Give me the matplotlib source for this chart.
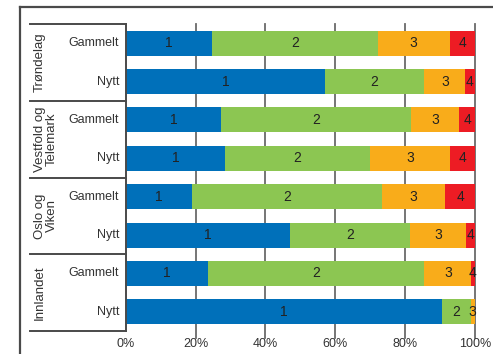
import matplotlib
matplotlib.use("Agg")
import matplotlib.pyplot as plt
from matplotlib.lines import Line2D
import matplotlib.transforms as mtransforms

# ---- data ----
groups = ["Trøndelag", "Vestfold og\nTelemark", "Oslo og\nViken", "Innlandet"]
subs = ["Gammelt", "Nytt"]
series_names = ["1", "2", "3", "4"]
s1 = [24.6, 57.0, 27.3, 28.3, 19.0, 47.0, 23.5, 90.5]
s2 = [47.6, 28.6, 54.3, 41.7, 54.3, 34.4, 62.1, 8.3]
s3 = [20.6, 11.7, 14.0, 22.8, 18.3, 16.2, 13.4, 1.2]
s4 = [7.2, 2.7, 4.4, 7.2, 8.4, 2.4, 1.0, 0.0]
xticks = [0, 20, 40, 60, 80, 100]
xticklabels = ["0%", "20%", "40%", "60%", "80%", "100%"]

colors = ["#0070BA", "#8CC652", "#F9AC1A", "#ED1C24"]
FONT = ["Liberation Sans", "DejaVu Sans"]
plt.rcParams["font.family"] = FONT

W, H = 493, 354
fig = plt.figure(figsize=(W / 100, H / 100), dpi=100)
ax_l, ax_r, ax_t, ax_b = 126, 474.7, 24, 331
ax = fig.add_axes([ax_l / W, 1 - ax_b / H, (ax_r - ax_l) / W, (ax_b - ax_t) / H])

n = len(s1)
ypos = list(range(n))
line_col = "#4a4a4a"
grid_col = "#6a6a6a"

# gridlines (extend slightly below axis like ticks)
for xv in xticks[1:]:
    ax.axvline(xv, ymin=-0.022, ymax=1, color=grid_col, lw=1.3, zorder=0, clip_on=False)

left = [0.0] * n
for vals, col, name in zip([s1, s2, s3, s4], colors, series_names):
    ax.barh(ypos, vals, left=left, height=0.65, color=col, zorder=2)
    for i, v in enumerate(vals):
        if v > 0:
            ax.text(left[i] + v / 2, i, name, ha="center", va="center",
                    fontsize=10, color="#222222", zorder=3)
    left = [a + b for a, b in zip(left, vals)]

ax.set_xlim(0, 100)
ax.set_ylim(n - 0.5, -0.5)
ax.set_xticks(xticks)
ax.set_xticklabels(xticklabels, fontsize=9, color="#333333")
ax.tick_params(axis="x", length=0, pad=5)
ax.set_yticks([])
for sp in ["top", "right", "bottom"]:
    ax.spines[sp].set_visible(False)
ax.spines["left"].set_color(line_col)
ax.spines["left"].set_linewidth(1.4)

# sub labels
trans_lab = mtransforms.blended_transform_factory(fig.transFigure, ax.transData)
for i in range(n):
    fig_x = 119 / W
    ax.text(fig_x, i, subs[i % 2], transform=trans_lab, ha="right", va="center",
            fontsize=9, color="#333333")

# group labels and separators
for g, name in enumerate(groups):
    yc = 2 * g + 0.5
    ax.text(34 / W, yc, name, transform=trans_lab, rotation=90, rotation_mode="anchor",
            ha="center", va="top", fontsize=9.5, color="#333333", linespacing=0.95)
for yb in [-0.5, 1.5, 3.5, 5.5, 7.5]:
    ax.add_line(Line2D([30 / W, ax_l / W], [yb, yb], transform=trans_lab,
                       color=line_col, lw=1.4, clip_on=False))

# outer frame (partially cropped)
fig.add_artist(Line2D([20 / W, 20 / W], [0, 1 - 7 / H], transform=fig.transFigure,
                      color=line_col, lw=1.6))
fig.add_artist(Line2D([20 / W, 1], [1 - 7 / H, 1 - 7 / H], transform=fig.transFigure,
                      color=line_col, lw=1.6))

fig.savefig("out.png", dpi=100)
